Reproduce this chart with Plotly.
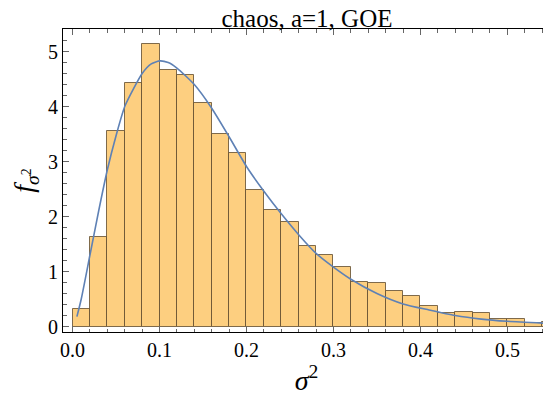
import plotly.graph_objects as go

# Histogram data (bin width 0.02, left edges)
bin_left = [round(0.02 * i, 2) for i in range(28)]
bin_height = [0.31, 1.625, 3.55, 4.425, 5.13, 4.66, 4.57, 4.07, 3.50, 3.16,
              2.485, 2.11, 1.90, 1.47, 1.30, 1.085, 0.81, 0.79, 0.64, 0.55,
              0.37, 0.24, 0.26, 0.24, 0.145, 0.14, 0.06, 0.08]

# Theoretical curve
curve_x = [0.005, 0.01, 0.02, 0.03, 0.04, 0.05, 0.06, 0.07, 0.08, 0.09, 0.10,
           0.11, 0.12, 0.14, 0.16, 0.18, 0.20, 0.22, 0.24, 0.26, 0.28, 0.30,
           0.32, 0.35, 0.38, 0.41, 0.44, 0.47, 0.50, 0.55]
curve_y = [0.18, 0.50, 1.30, 2.10, 2.85, 3.47, 4.00, 4.32, 4.60, 4.77, 4.83,
           4.80, 4.70, 4.40, 3.97, 3.45, 2.91, 2.46, 2.05, 1.67, 1.33, 1.08,
           0.86, 0.60, 0.41, 0.30, 0.20, 0.135, 0.095, 0.055]

x_ticks = [0.0, 0.1, 0.2, 0.3, 0.4, 0.5]
y_ticks = [0, 1, 2, 3, 4, 5]

fig = go.Figure()
fig.add_trace(go.Bar(
    x=bin_left, y=bin_height, width=0.02, offset=0,
    marker=dict(color="#FDCF80", line=dict(color="rgba(95,75,45,0.8)", width=1)),
    showlegend=False, hoverinfo="skip",
))
fig.add_trace(go.Scatter(
    x=curve_x, y=curve_y, mode="lines", line=dict(color="#5E81B5", width=1.6, shape="spline", smoothing=0.6),
    showlegend=False,
))

font_family = "'Liberation Serif', 'Times New Roman', Times, serif"
axis_common = dict(
    showgrid=False, zeroline=False, showline=True, linecolor="#000000", linewidth=1,
    mirror="allticks", ticks="inside", ticklen=6, tickwidth=1, tickcolor="#666666",
    tickfont=dict(family=font_family, size=20, color="#000000"),
    automargin=False,
)
# page body has an 8px default margin, so figure size/margins are reduced by 8px
fig.update_layout(
    width=543, height=395,
    margin=dict(l=55, r=1, t=21, b=71),
    paper_bgcolor="white", plot_bgcolor="white",
    bargap=0,
    font=dict(family=font_family),
    title=dict(text="chaos, a=1, GOE", x=0.5506, xanchor="center",
               y=0.997, yanchor="top", yref="container", automargin=False,
               font=dict(family=font_family, size=25, color="#000000")),
    xaxis=dict(range=[-0.011, 0.549], tickvals=x_ticks, tickformat=".1f",
               minor=dict(dtick=0.02, tick0=0, ticklen=3.5, ticks="inside", tickcolor="#666666"),
               title=dict(text="<i>σ</i><sup>2</sup>", standoff=10,
                          font=dict(family=font_family, size=28, color="#000000")),
               **axis_common),
    yaxis=dict(range=[-0.10, 5.41], tickvals=y_ticks,
               minor=dict(dtick=0.2, tick0=0, ticklen=3.5, ticks="inside", tickcolor="#666666"),
               title=dict(text="<i>f</i><sub><i>σ</i><sup>2</sup></sub>", standoff=10,
                          font=dict(family=font_family, size=28, color="#000000")),
               **axis_common),
)
fig.write_html("out.html")
